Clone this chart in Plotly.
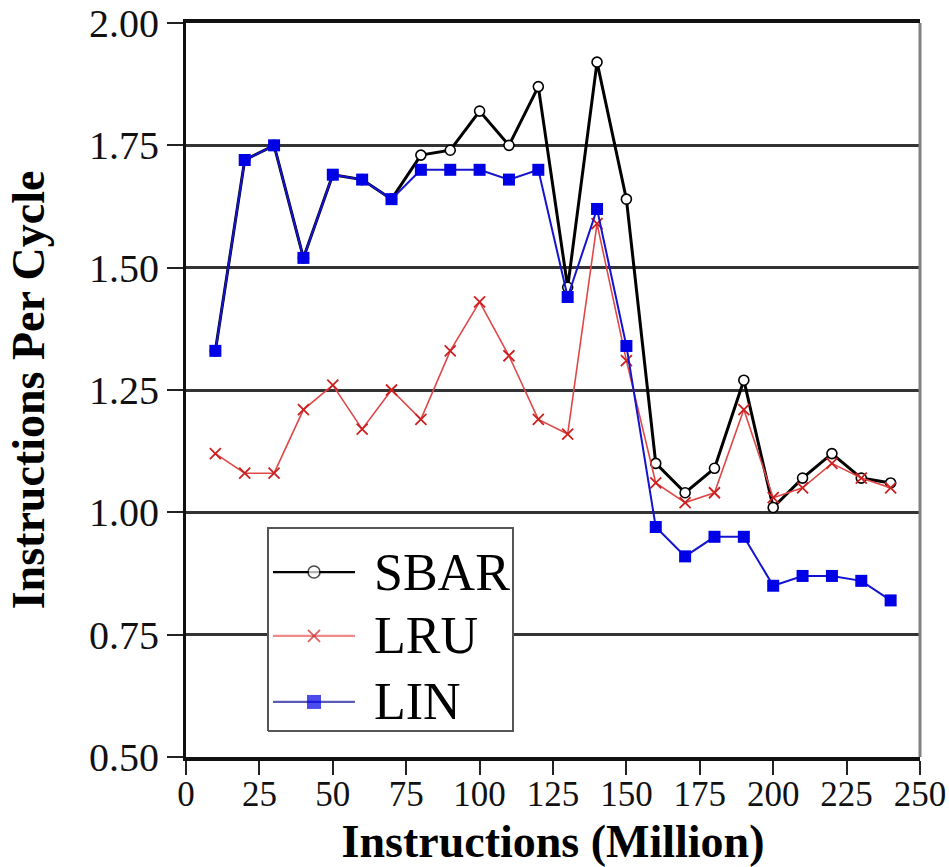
import plotly.graph_objects as go

# Instructions executed (millions) at each sample point
instructions = [10, 20, 30, 40, 50, 60, 70, 80, 90, 100, 110, 120,
                130, 140, 150, 160, 170, 180, 190, 200, 210, 220, 230, 240]

# IPC for each replacement policy
sbar = [1.33, 1.72, 1.75, 1.52, 1.69, 1.68, 1.64, 1.73, 1.74, 1.82, 1.75, 1.87,
        1.46, 1.92, 1.64, 1.10, 1.04, 1.09, 1.27, 1.01, 1.07, 1.12, 1.07, 1.06]
lru = [1.12, 1.08, 1.08, 1.21, 1.26, 1.17, 1.25, 1.19, 1.33, 1.43, 1.32, 1.19,
       1.16, 1.59, 1.31, 1.06, 1.02, 1.04, 1.21, 1.03, 1.05, 1.10, 1.07, 1.05]
lin = [1.33, 1.72, 1.75, 1.52, 1.69, 1.68, 1.64, 1.70, 1.70, 1.70, 1.68, 1.70,
       1.44, 1.62, 1.34, 0.97, 0.91, 0.95, 0.95, 0.85, 0.87, 0.87, 0.86, 0.82]

x_ticks = [0, 25, 50, 75, 100, 125, 150, 175, 200, 225, 250]
y_ticks = [0.50, 0.75, 1.00, 1.25, 1.50, 1.75, 2.00]
y_tick_text = ["0.50", "0.75", "1.00", "1.25", "1.50", "1.75", "2.00"]

series_names = ["SBAR", "LRU", "LIN"]

SERIF = "Liberation Serif, Times New Roman, serif"

styles = {
    "SBAR": dict(line=dict(color="#000000", width=3),
                 marker=dict(symbol="circle", size=10, color="#ffffff",
                             line=dict(color="#000000", width=1.6))),
    "LRU": dict(line=dict(color="#e04848", width=1.6),
                marker=dict(symbol="x-thin", size=11, color="#cc2020",
                            line=dict(color="#cc2020", width=1.8))),
    "LIN": dict(line=dict(color="#1414d0", width=2),
                marker=dict(symbol="square", size=12, color="#0000e6",
                            line=dict(width=0))),
}

fig = go.Figure()
for name, values in zip(series_names, [sbar, lru, lin]):
    fig.add_trace(go.Scatter(x=instructions, y=values, name=name,
                             mode="lines+markers", showlegend=False,
                             **styles[name]))

# Legend drawn inside the plot on an overlay axis spanning [0, 1]
box_x = [0.1117, 0.4455, 0.4455, 0.1117, 0.1117]
box_y = [0.0354, 0.0354, 0.312, 0.312, 0.0354]
fig.add_trace(go.Scatter(x=box_x, y=box_y, mode="lines", fill="toself",
                         fillcolor="#ffffff", line=dict(color="#555555", width=2),
                         xaxis="x2", yaxis="y2", showlegend=False,
                         hoverinfo="skip"))

legend_x = [0.1185, 0.1744, 0.2302]
legend_rows = [0.252, 0.165, 0.075]
legend_line_colors = {"SBAR": "#000000", "LRU": "#ee8a8a", "LIN": "#5a5ab8"}
legend_marker_sizes = {"SBAR": 12, "LRU": 12, "LIN": 14}
for name, ry in zip(series_names, legend_rows):
    st = styles[name]
    mk = dict(st["marker"])
    mk["size"] = [0, legend_marker_sizes[name], 0]
    fig.add_trace(go.Scatter(x=legend_x, y=[ry] * 3, mode="lines+markers",
                             xaxis="x2", yaxis="y2", showlegend=False,
                             hoverinfo="skip",
                             line=dict(color=legend_line_colors[name], width=2.2),
                             marker=mk))
    fig.add_annotation(x=0.2534, y=ry, xref="x2", yref="y2", text=name,
                       showarrow=False, xanchor="left", yanchor="middle",
                       font=dict(family=SERIF, size=52, color="#000000"))

# Right-hand frame edge
fig.add_shape(type="line", xref="paper", yref="paper", x0=1, x1=1, y0=0, y1=1,
              line=dict(color="#808080", width=3), layer="above")

fig.update_layout(
    width=949, height=867, autosize=False,
    margin=dict(l=186, r=29, t=23, b=110, pad=0, autoexpand=False),
    paper_bgcolor="#ffffff", plot_bgcolor="#ffffff",
    showlegend=False,
    xaxis=dict(range=[0, 250], tickvals=x_ticks, ticks="outside", ticklen=14,
               tickwidth=2, tickcolor="#222222", ticklabelstandoff=-11,
               automargin=False,
               showline=True, linecolor="#111111", linewidth=4, mirror=True,
               showgrid=False, zeroline=False,
               tickfont=dict(family=SERIF, size=35, color="#111111"),
               title=dict(text="<b>Instructions (Million)</b>", standoff=14,
                          font=dict(family=SERIF, size=46, color="#000000"))),
    yaxis=dict(range=[0.5, 2.0], tickvals=y_ticks, ticktext=y_tick_text,
               ticks="outside", ticklen=16, tickwidth=2, tickcolor="#222222",
               automargin=False,
               showline=True, linecolor="#111111", linewidth=3,
               showgrid=True, gridcolor="#333333", gridwidth=3, zeroline=False,
               tickfont=dict(family=SERIF, size=40, color="#111111"),
               title=dict(text="<b>Instructions Per Cycle</b>", standoff=30,
                          font=dict(family=SERIF, size=46, color="#000000"))),
    xaxis2=dict(range=[0, 1], overlaying="x", visible=False, fixedrange=True),
    yaxis2=dict(range=[0, 1], overlaying="y", visible=False, fixedrange=True),
)

fig.write_html("out.html")
